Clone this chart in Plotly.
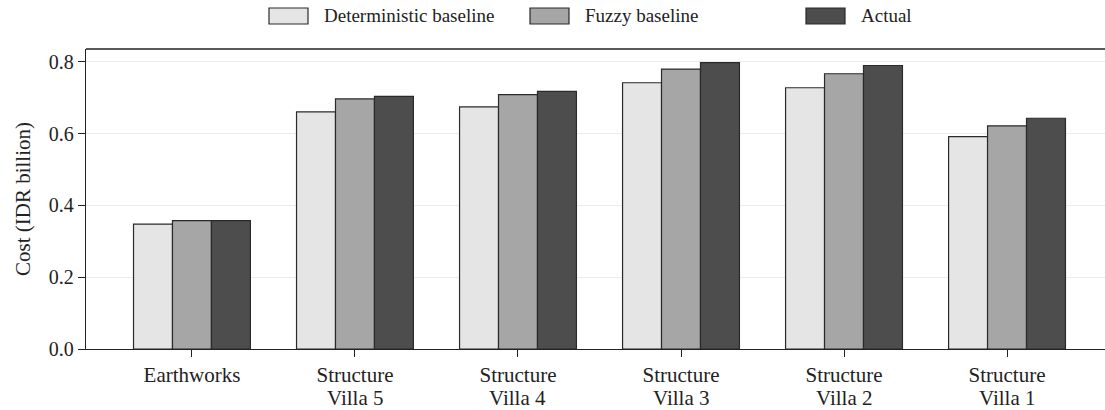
import plotly.graph_objects as go

categories = ["Earthworks", "Structure\nVilla 5", "Structure\nVilla 4",
              "Structure\nVilla 3", "Structure\nVilla 2", "Structure\nVilla 1"]
series_names = ["Deterministic baseline", "Fuzzy baseline", "Actual"]
deterministic = [0.348, 0.661, 0.675, 0.742, 0.728, 0.592]
fuzzy = [0.358, 0.697, 0.709, 0.780, 0.767, 0.622]
actual = [0.358, 0.704, 0.718, 0.798, 0.790, 0.643]
y_ticks = [0.0, 0.2, 0.4, 0.6, 0.8]
y_tick_labels = ["0.0", "0.2", "0.4", "0.6", "0.8"]

colors = ["#e5e5e5", "#a6a6a6", "#4d4d4d"]
FONT = "Liberation Serif, Times New Roman, serif"
W, H = 1105, 410
ML, MT, MB, MR = 86, 49, 61, 0

xpos = list(range(len(categories)))
line1 = [c.split("\n")[0] for c in categories]
line2 = [c.split("\n")[1] if "\n" in c else "" for c in categories]

fig = go.Figure()
for name, vals, col in zip(series_names, [deterministic, fuzzy, actual], colors):
    fig.add_trace(go.Bar(
        x=xpos, y=vals, name=name,
        marker=dict(color=col, line=dict(color="#2a2a2a", width=1.2)),
        showlegend=False,
    ))

pw = W - ML - MR
ph = H - MT - MB
def px_x(x):
    return (x - ML) / pw
def px_y(y):
    return (H - MB - y) / ph

shapes = []
annotations = []
# custom legend (patches + labels)
legend_box_x = [269, 530, 806]
for name, col, bx in zip(series_names, colors, legend_box_x):
    shapes.append(dict(type="rect", xref="paper", yref="paper",
                       x0=px_x(bx), x1=px_x(bx + 39), y0=px_y(24), y1=px_y(8),
                       fillcolor=col, line=dict(color="#2a2a2a", width=1.2)))
    annotations.append(dict(text=name, xref="paper", yref="paper",
                            x=px_x(bx + 53), y=px_y(16), xanchor="left", yanchor="middle",
                            showarrow=False, font=dict(family=FONT, size=19, color="#222")))
# second line of category labels
for xp, t in zip(xpos, line2):
    if t:
        annotations.append(dict(text=t, xref="x", yref="paper", x=xp, y=px_y(398),
                                xanchor="center", yanchor="middle", showarrow=False,
                                font=dict(family=FONT, size=21, color="#222")))
# top spine
shapes.append(dict(type="line", xref="paper", yref="paper", x0=0, x1=1, y0=1, y1=1,
                   line=dict(color="#222", width=1.3)))

fig.update_layout(
    width=W, height=H,
    margin=dict(l=ML, r=MR, t=MT, b=MB),
    paper_bgcolor="white", plot_bgcolor="white",
    barmode="group", bargap=0.283, bargroupgap=0,
    font=dict(family=FONT, size=19, color="#222"),
    shapes=shapes, annotations=annotations,
    xaxis=dict(
        tickmode="array", tickvals=xpos, ticktext=line1,
        tickfont=dict(size=21),
        range=[-0.65, 5.601], showline=True, linecolor="#222", linewidth=1.3,
        ticks="outside", ticklen=7, tickwidth=1.3, tickcolor="#222",
        showgrid=False, zeroline=False, automargin=False,
    ),
    yaxis=dict(
        tickmode="array", tickvals=y_ticks, ticktext=y_tick_labels,
        tickfont=dict(size=20),
        range=[0, 0.836], showline=True, linecolor="#222", linewidth=1.3,
        ticks="outside", ticklen=7, tickwidth=1.3, tickcolor="#222",
        showgrid=True, gridcolor="#ebebeb", gridwidth=1.2, zeroline=False,
        automargin=False,
        title=dict(text="Cost (IDR billion)", standoff=12, font=dict(size=21)),
    ),
)
fig.write_html("out.html", config={"displayModeBar": False},
               post_script="document.body.style.margin='0px';document.body.style.overflow='hidden';")
